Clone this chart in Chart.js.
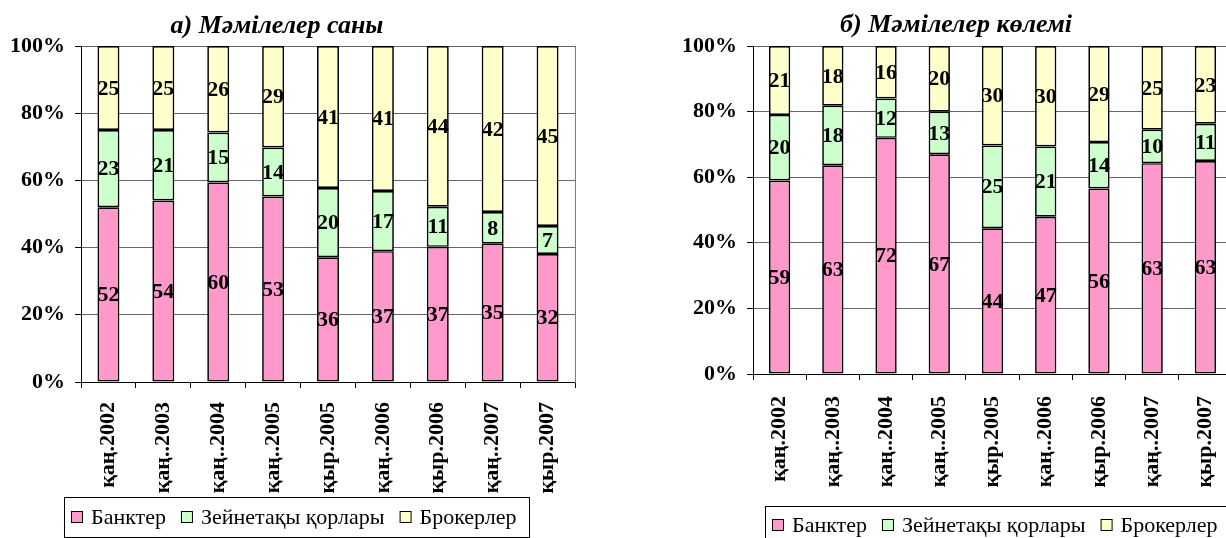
<!DOCTYPE html>
<html>
<head>
<meta charset="utf-8">
<script src="https://cdn.jsdelivr.net/npm/chart.js@4.4.0/dist/chart.umd.min.js"></script>
<style>
  html, body { margin: 0; padding: 0; width: 1226px; height: 538px; overflow: hidden; background: #fff; }
  canvas { position: absolute; top: 0; }
  #countChart { left: 0; }
  #volumeChart { left: 672px; }
</style>
</head>
<body>
<canvas id="countChart" width="613" height="538"></canvas>
<canvas id="volumeChart" width="580" height="538"></canvas>
<script>
// Periods on the category axis
const periods = ['қаң.2002', 'қаң..2003', 'қаң..2004', 'қаң..2005', 'қыр.2005', 'қаң..2006', 'қыр.2006', 'қаң..2007', 'қыр.2007'];
const seriesNames = ['Банктер', 'Зейнетақы қорлары', 'Брокерлер'];
const seriesColors = ['#FF99CC', '#CCFFCC', '#FFFFCC'];
const yTickValues = [0, 20, 40, 60, 80, 100];
const yTickLabels = ['0%', '20%', '40%', '60%', '80%', '100%'];

// а) number of deals, per participant type (%)
const countBanks = [52, 54, 60, 53, 36, 37, 37, 35, 32];
const countPension = [23, 21, 15, 14, 20, 17, 11, 8, 7];
const countBrokers = [25, 25, 26, 29, 41, 41, 44, 42, 45];

// б) volume of deals, per participant type (%)
const volumeBanks = [59, 63, 72, 67, 44, 47, 56, 63, 63];
const volumePension = [20, 18, 12, 13, 25, 21, 14, 10, 11];
const volumeBrokers = [21, 18, 16, 20, 30, 30, 29, 25, 23];

const SERIF = '"Liberation Serif", "Times New Roman", serif';
Chart.defaults.font.family = SERIF;
Chart.defaults.color = '#000';

// Title drawn relative to the left edge of the plot area
const panelTitle = {
  id: 'panelTitle',
  afterDraw(chart, args, opts) {
    const ctx = chart.ctx;
    ctx.save();
    ctx.font = 'italic bold ' + opts.size + 'px ' + SERIF;
    ctx.fillStyle = '#000';
    ctx.textAlign = 'center';
    ctx.textBaseline = 'alphabetic';
    ctx.fillText(opts.text, chart.chartArea.left + opts.offsetX, opts.baseline);
    ctx.restore();
  }
};

// Legend in a framed box below the axis
const boxedLegend = {
  id: 'boxedLegend',
  afterDraw(chart, args, opts) {
    const ctx = chart.ctx;
    ctx.save();
    ctx.font = opts.size + 'px ' + SERIF;
    ctx.lineWidth = 1;
    ctx.strokeStyle = '#000';
    ctx.strokeRect(opts.left + 0.5, opts.top + 0.5, opts.width, opts.height);
    let x = opts.left + opts.inset;
    const cy = opts.top + opts.textY;
    chart.data.datasets.forEach(ds => {
      ctx.fillStyle = ds.backgroundColor;
      ctx.fillRect(x, cy - 6, 12, 12);
      ctx.strokeRect(x + 0.5, cy - 5.5, 11, 11);
      x += 12 + opts.markGap;
      ctx.fillStyle = '#000';
      ctx.textAlign = 'left';
      ctx.textBaseline = 'middle';
      ctx.fillText(ds.label, x, cy + 1);
      x += ctx.measureText(ds.label).width + opts.gap;
    });
    ctx.restore();
  }
};

// Value written in the middle of each stacked segment
const segmentLabels = {
  id: 'segmentLabels',
  afterDatasetsDraw(chart) {
    const ctx = chart.ctx;
    ctx.save();
    ctx.font = 'bold 22px ' + SERIF;
    ctx.fillStyle = '#000';
    ctx.textAlign = 'center';
    ctx.textBaseline = 'middle';
    chart.data.datasets.forEach((ds, i) => {
      chart.getDatasetMeta(i).data.forEach((bar, j) => {
        ctx.fillText(String(ds.values[j]), bar.x, (bar.y + bar.base) / 2 + 1);
      });
    });
    ctx.restore();
  }
};

function buildChart(canvasId, groups, cfg) {
  // each column is shown as a 100% stack of its three values
  const totals = periods.map((p, i) => groups.reduce((s, g) => s + g[i], 0));
  const datasets = groups.map((g, k) => ({
    label: seriesNames[k],
    values: g,
    data: g.map((v, i) => v / totals[i] * 100),
    backgroundColor: seriesColors[k],
    borderColor: '#000',
    borderWidth: 1.7,
    borderSkipped: false,
    categoryPercentage: 1,
    barPercentage: 0.4
  }));

  return new Chart(document.getElementById(canvasId), {
    type: 'bar',
    data: { labels: periods, datasets },
    options: {
      responsive: false,
      animation: false,
      devicePixelRatio: 1,
      layout: { padding: { left: 0, right: cfg.padRight, top: 46, bottom: cfg.padBottom } },
      plugins: {
        legend: { display: false },
        tooltip: { enabled: false },
        panelTitle: { text: cfg.title, size: 26, offsetX: cfg.titleOffset, baseline: cfg.titleBaseline },
        boxedLegend: Object.assign({ size: 22, inset: 7, markGap: 8, gap: 15 }, cfg.legend)
      },
      scales: {
        x: {
          stacked: true,
          afterFit: s => { s.height = cfg.xAxisHeight; },
          grid: { offset: true, drawOnChartArea: false, drawTicks: true, tickLength: 6, color: '#000' },
          border: { display: true, color: '#000', width: 1 },
          ticks: {
            autoSkip: false, minRotation: 90, maxRotation: 90, padding: cfg.xPad,
            font: { size: 22, weight: 'bold' }, color: '#000'
          }
        },
        y: {
          stacked: true,
          min: 0, max: 100,
          afterFit: s => { s.width = 81; },
          afterBuildTicks: s => { s.ticks = yTickValues.map(v => ({ value: v })); },
          grid: { color: '#666', lineWidth: 1, tickLength: 6, tickColor: '#000' },
          border: { display: true, color: '#000', width: 1 },
          ticks: {
            padding: 10,
            font: { size: 22, weight: 'bold' }, color: '#000',
            callback: v => yTickLabels[yTickValues.indexOf(v)]
          }
        },
        yEdge: {
          position: 'right',
          min: 0, max: 100,
          afterFit: s => { s.width = 0; },
          grid: { drawOnChartArea: false, drawTicks: false },
          border: { display: true, color: '#7a7a7a', width: 1 },
          ticks: { display: false }
        }
      }
    },
    plugins: [segmentLabels, panelTitle, boxedLegend]
  });
}

buildChart('countChart', [countBanks, countPension, countBrokers], {
  title: 'а) Мәмілелер саны',
  titleOffset: 196, titleBaseline: 33,
  padRight: 38, padBottom: 36, xAxisHeight: 120, xPad: 14,
  legend: { left: 64, top: 497, width: 465, height: 40, textY: 20 }
});

buildChart('volumeChart', [volumeBanks, volumePension, volumeBrokers], {
  title: 'б) Мәмілелер көлемі',
  titleOffset: 203, titleBaseline: 32,
  padRight: 20, padBottom: 44, xAxisHeight: 120, xPad: 16,
  legend: { left: 93, top: 506, width: 470, height: 44, textY: 19 }
});
</script>
</body>
</html>
